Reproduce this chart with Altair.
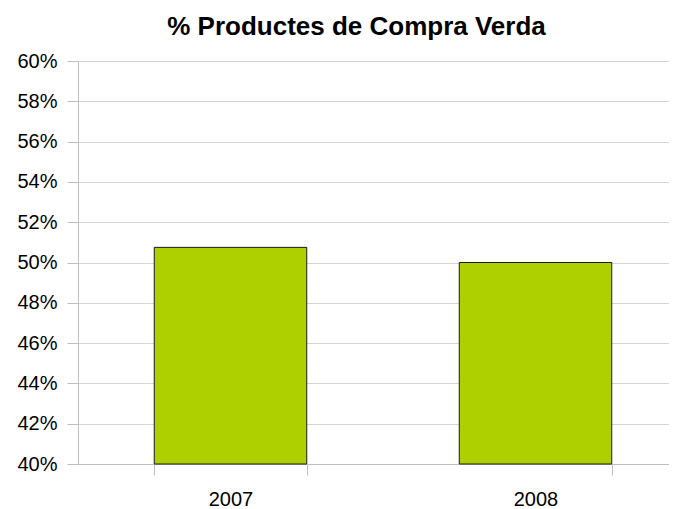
import altair as alt
import pandas as pd

years = ["2007", "2008"]
values = [0.5075, 0.500]
base = [0.40, 0.40]
tick_values = [0.40, 0.42, 0.44, 0.46, 0.48, 0.50, 0.52, 0.54, 0.56, 0.58, 0.60]

df = pd.DataFrame({"year": years, "value": values, "base": base})

FONT = "Liberation Sans"

chart = alt.Chart(df).mark_bar(
    color="#AFD000", stroke="#1a1a1a", strokeWidth=1
).encode(
    x=alt.X("year:N", title=None,
            scale=alt.Scale(paddingInner=0.5, paddingOuter=0.25, range=[0, 610]),
            axis=alt.Axis(labelAngle=0, labelFontSize=20, labelFont=FONT,
                          labelColor="#000000", labelPadding=14,
                          tickBand="extent", tickSize=11, tickColor="#BFBFBF",
                          domainColor="#BFBFBF", grid=False)),
    y=alt.Y("value:Q", title=None,
            scale=alt.Scale(domain=[0.40, 0.60], zero=False, nice=False),
            axis=alt.Axis(format=".0%", values=tick_values,
                          labelFontSize=20, labelFont=FONT, labelColor="#000000",
                          labelPadding=10, tickSize=11, tickColor="#BFBFBF",
                          domainColor="#BFBFBF", gridColor="#D4D4D4")),
    y2="base:Q",
).properties(
    width=591,
    height=403,
    title=alt.TitleParams("% Productes de Compra Verda", font=FONT, fontSize=26,
                          fontWeight="bold", color="#000000", anchor="middle",
                          dx=-17, offset=11),
    autosize=alt.AutoSizeParams(type="none"),
    padding={"left": 70, "top": 53, "right": 0, "bottom": 45},
).configure_view(stroke=None)

chart.save("out.html", embed_options={"renderer": "svg", "actions": False})
